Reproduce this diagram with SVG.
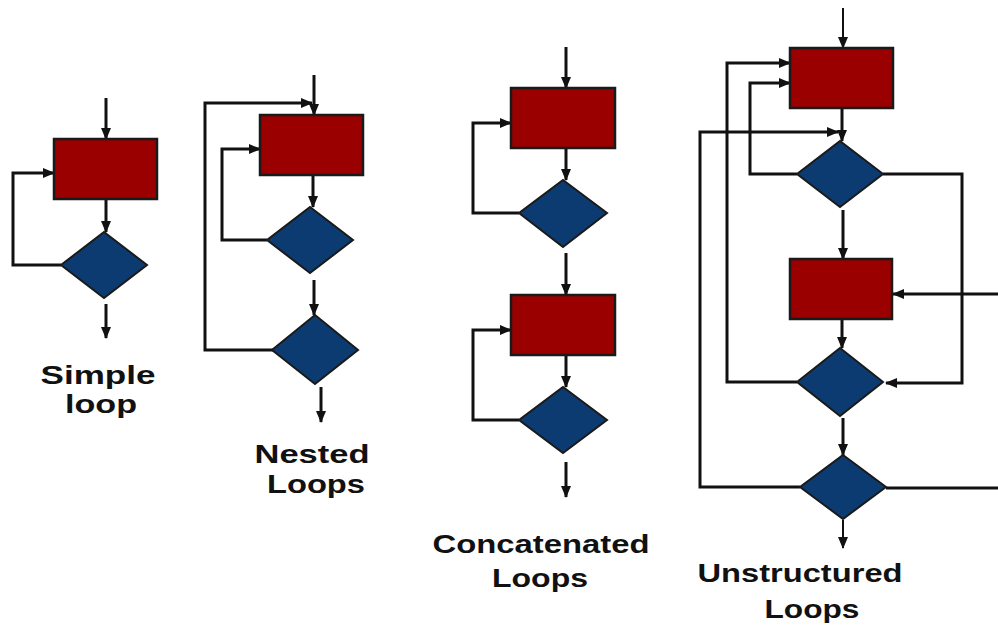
<svg xmlns="http://www.w3.org/2000/svg" width="998" height="626" viewBox="0 0 998 626">
<defs>
<marker id="ah" markerUnits="userSpaceOnUse" markerWidth="12" markerHeight="10" refX="11" refY="5" orient="auto">
<path d="M0,0 L12,5 L0,10 z" fill="#111"/>
</marker>
<style>
.box{fill:#9a0000;stroke:#1a1a1a;stroke-width:2.5}
.dia{fill:#0c3b72;stroke:#1a1a1a;stroke-width:2}
.c{fill:none;stroke:#111;stroke-width:3}
.t{fill:none;stroke:#111;stroke-width:2}
.a{marker-end:url(#ah)}
.lbl{font-family:"Liberation Sans",Arial,sans-serif;font-weight:bold;font-size:25px;fill:#111;text-anchor:middle}
</style>
</defs>
<rect width="998" height="626" fill="#fff"/>
<g id="connectors">
<!-- simple -->
<path class="c a" d="M106,98 V139"/>
<path class="c a" d="M61,265 H13 V173 H54"/>
<path class="c a" d="M106,199 V232"/>
<path class="c a" d="M106,304 V338"/>
<!-- nested -->
<path class="c a" d="M314,75 V115"/>
<path class="c a" d="M273,350 H205 V103 H312"/>
<path class="c a" d="M267,240 H222 V149 H260"/>
<path class="c a" d="M313,175 V207"/>
<path class="c a" d="M314,280 V315"/>
<path class="c a" d="M321,387 V422"/>
<!-- concatenated -->
<path class="c a" d="M566,47 V88"/>
<path class="c a" d="M519,213 H473 V123 H511"/>
<path class="c a" d="M566,148 V180"/>
<path class="c a" d="M566,253 V295"/>
<path class="c a" d="M519,420 H473 V330 H511"/>
<path class="c a" d="M566,355 V387"/>
<path class="c a" d="M566,462 V497"/>
<!-- unstructured -->
<path class="t a" d="M843,8 V48"/>
<path class="c a" d="M797,382 H727 V63 H790"/>
<path class="c a" d="M797,174 H750 V83 H790"/>
<path class="c a" d="M800,487 H700 V132 H838"/>
<path class="c a" d="M842,108 V141"/>
<path class="c a" d="M883,174 H962 V383 H886"/>
<path class="c a" d="M843,210 V259"/>
<path class="c a" d="M998,294 H893"/>
<path class="c a" d="M842,319 V348"/>
<path class="c a" d="M843,418 V455"/>
<path class="c" d="M886,488 H998"/>
<path class="t a" d="M843,520 V548"/>
</g>
<g id="simple-loop">
<rect class="box" x="54" y="139" width="103" height="60"/>
<polygon class="dia" points="104,232 147,265 104,298 61,265"/>
<text class="lbl" x="98" y="384" textLength="115" lengthAdjust="spacingAndGlyphs">Simple</text>
<text class="lbl" x="101" y="413" textLength="72" lengthAdjust="spacingAndGlyphs">loop</text>
</g>
<g id="nested-loops">
<rect class="box" x="260" y="115" width="103" height="60"/>
<polygon class="dia" points="310,207 353,240 310,273 267,240"/>
<polygon class="dia" points="315,315 358,350 315,384 272,350"/>
<text class="lbl" x="312" y="463" textLength="115" lengthAdjust="spacingAndGlyphs">Nested</text>
<text class="lbl" x="316" y="493" textLength="98" lengthAdjust="spacingAndGlyphs">Loops</text>
</g>
<g id="concatenated-loops">
<rect class="box" x="511" y="88" width="104" height="60"/>
<polygon class="dia" points="563,180 607,213 563,247 519,213"/>
<rect class="box" x="511" y="295" width="104" height="60"/>
<polygon class="dia" points="563,387 607,420 563,453 519,420"/>
<text class="lbl" x="541" y="553" textLength="217" lengthAdjust="spacingAndGlyphs">Concatenated</text>
<text class="lbl" x="540" y="587" textLength="96" lengthAdjust="spacingAndGlyphs">Loops</text>
</g>
<g id="unstructured-loops">
<rect class="box" x="790" y="48" width="103" height="60"/>
<polygon class="dia" points="840,141 883,174 840,207 797,174"/>
<rect class="box" x="790" y="259" width="102" height="60"/>
<polygon class="dia" points="840,348 883,382 840,416 797,382"/>
<polygon class="dia" points="843,455 886,487 843,519 800,487"/>
<text class="lbl" x="800" y="582" textLength="205" lengthAdjust="spacingAndGlyphs">Unstructured</text>
<text class="lbl" x="812" y="618" textLength="95" lengthAdjust="spacingAndGlyphs">Loops</text>
</g>
</svg>
